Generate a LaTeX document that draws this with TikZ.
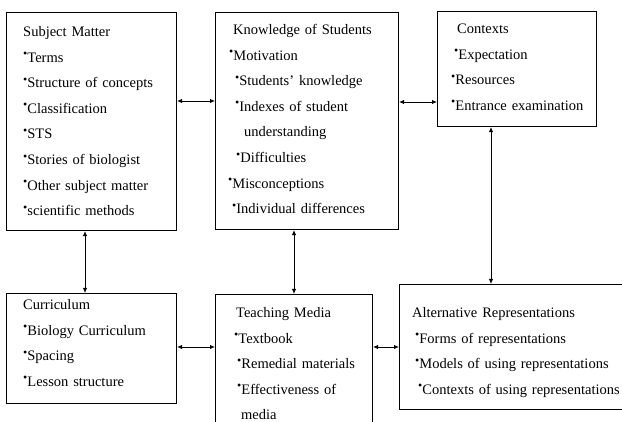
\documentclass[tikz,border=0pt]{standalone}
\usepackage{fontspec}
\setmainfont{Liberation Serif}
\usetikzlibrary{arrows.meta}
\newcommand{\bul}{\raisebox{0.3em}{\fontsize{12}{12}\selectfont\textbullet}}
\tikzset{
  box/.style={draw, line width=1.1pt, inner sep=0pt, anchor=north west},
  items/.style={anchor=base west, inner sep=0pt, text width=260pt, align=left,
    font=\fontsize{14.5}{25.6}\selectfont},
  link/.style={line width=0.9pt, {Latex[length=5pt,width=4.5pt]}-{Latex[length=5pt,width=4.5pt]}}
}

\begin{document}
\begin{tikzpicture}[x=1pt,y=-1pt]
        \useasboundingbox (0,0) rectangle (622,422);
        % Boxes
        \node[box, minimum width=170, minimum height=218] (subj) at (6,12) {};
        \node[box, minimum width=183, minimum height=217] (know) at (215,12) {};
        \node[box, minimum width=159, minimum height=115] (ctx) at (437,11) {};
        \node[box, minimum width=170, minimum height=110] (curr) at (6,293) {};
        \node[box, minimum width=157, minimum height=146] (media) at (215,294) {};
        \node[box, minimum width=241, minimum height=125] (alt) at (399,284) {};
        % Texts
        \node[items] (subjtxt) at (23,36.5) {Subject Matter\\ \bul Terms\\ \bul Structure of concepts\\
          \bul Classification\\ \bul STS\\ \bul Stories of biologist\\ \bul Other subject matter\\
          \bul scientific methods};
        \node[items] (knowtxt) at (228,34.5) {\hspace*{5pt}Knowledge of Students\\ \hspace*{1pt}\bul Motivation\\
          \hspace*{7pt}\bul Students' knowledge\\ \hspace*{7pt}\bul Indexes of student\\
          \hspace*{16pt}understanding\\ \hspace*{8pt}\bul Difficulties\\ \bul Misconceptions\\
          \hspace*{4pt}\bul Individual differences};
        \node[items] (ctxtxt) at (451,33.5) {\hspace*{6pt}Contexts\\ \hspace*{3pt}\bul Expectation\\
          \bul Resources\\ \bul Entrance examination};
        \node[items] (currtxt) at (23,309.5) {Curriculum\\ \bul Biology Curriculum\\ \bul Spacing\\
          \bul Lesson structure};
        \node[items] (mediatxt) at (234,317.5) {\hspace*{2pt}Teaching Media\\ \bul Textbook\\
          \hspace*{3pt}\bul Remedial materials\\ \hspace*{3pt}\bul Effectiveness of\\ \hspace*{7pt}media};
        \node[items] (alttxt) at (412,317.5) {Alternative Representations\\ \hspace*{3pt}\bul Forms of representations\\
          \hspace*{3pt}\bul Models of using representations\\ \hspace*{6pt}\bul Contexts of using representations};
        % Links
        \draw[link] (subj.east |- 0,101) -- (know.west |- 0,101);
        \draw[link] (know.east |- 0,102) -- (ctx.west |- 0,102);
        \draw[link] (subj.south -| 85,0) -- (curr.north -| 85,0);
        \draw[link] (know.south -| 294,0) -- (media.north -| 294,0);
        \draw[link] (ctx.south -| 491,0) -- (alt.north -| 491,0);
        \draw[link] (curr.east |- 0,347) -- (media.west |- 0,347);
        \draw[link] (media.east |- 0,347) -- (alt.west |- 0,347);
    \end{tikzpicture}
\end{document}
